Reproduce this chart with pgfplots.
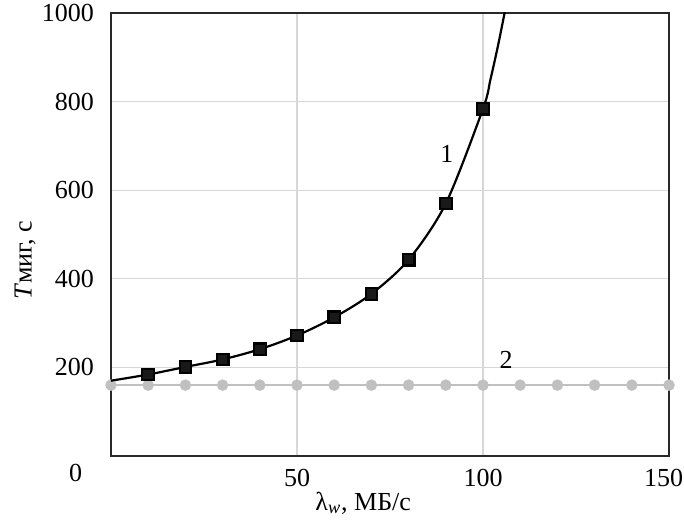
\documentclass[border=0pt]{standalone}
\usepackage{fontspec}
\setmainfont{Liberation Serif}
\usepackage{pgfplots}
\pgfplotsset{compat=1.18}
\definecolor{gridc}{RGB}{215,215,215}
\definecolor{ser2}{RGB}{192,192,192}
\definecolor{framec}{RGB}{40,40,40}
\begin{document}
\fontsize{13}{15}\selectfont
\begin{tikzpicture}
\begin{axis}[name=ax,
  scale only axis, width=279pt, height=221.5pt,
  xmin=0, xmax=150, ymin=0, ymax=1000,
  xtick={50,100,150}, xticklabels={50,100,{\makebox[0pt]{\hspace{-5.5pt}150}}},
  ytick={200,400,600,800,1000},
  /pgf/number format/1000 sep={},
  major tick length=0pt,
  grid=major, major grid style={gridc, line width=0.6pt},
  axis line style={framec, line width=0.8pt},
  tick label style={font=\fontsize{13}{15}\selectfont},
  /pgf/number format/assume math mode=true,
  yticklabel style={xshift=-4pt},
  xticklabel style={yshift=-2pt},
  xlabel={λ\textsubscript{\textit{w}}, МБ/с},
  ylabel={\textit{T}миг, с},
  xlabel style={at={(axis description cs:0.452,-0.106)}, anchor=center},
  ylabel style={at={(axis description cs:-0.154,0.442)}, anchor=center, rotate=0},
  clip mode=individual,
]
\addplot[ser2, line width=1.1pt, mark=*, mark size=2.3pt, mark options={fill=ser2, draw=ser2}]
 coordinates {(0,160)(10,160)(20,160)(30,160)(40,160)(50,160)(60,160)(70,160)(80,160)(90,160)(100,160)(110,160)(120,160)(130,160)(140,160)(150,160)};
\addplot[black, line width=1.1pt, smooth, mark=square*, mark size=2.9pt, mark options={fill=black!90}, mark indices={2,3,4,5,6,7,8,9,10,11}]
 coordinates {(0,170)(10,184)(20,201)(30,218)(40,241)(50,272)(60,313)(70,366)(80,443)(90,570)(100,784)(102,850)(104,925)(106,1008)};
\node at (axis cs:90.3,681) {1};
\node at (axis cs:106.2,216) {2};
\node at (axis cs:-9.5,-38) {0};
\end{axis}
\pgfresetboundingbox
\path (ax.south west) ++(-55.5pt,-32pt) coordinate (bl);
\path (ax.south west) ++(286.5pt,228pt) coordinate (tr);
\useasboundingbox (bl) rectangle (tr);
\end{tikzpicture}
\end{document}
